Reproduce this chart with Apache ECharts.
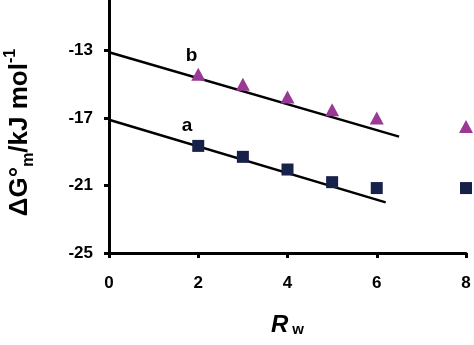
<!DOCTYPE html>
<html>
<head>
<meta charset="utf-8">
<script src="https://cdn.jsdelivr.net/npm/echarts@6/dist/echarts.min.js"></script>
<style>
  html, body { margin: 0; padding: 0; background: #fff; }
  #chart { width: 474px; height: 345px; }
</style>
</head>
<body>
<div id="chart"></div>
<script>
// Water-to-surfactant ratio values
var rw = [2, 3, 4, 5, 6, 8];
// Standard free energy of micellisation (kJ/mol)
var seriesA = [-18.65, -19.3, -20.05, -20.8, -21.15, -21.15];
var seriesB = [-14.4, -15.0, -15.75, -16.5, -17.0, -17.5];
// Linear fits, given as endpoints [Rw, ΔG]
var fitA = [[0, -17.1], [6.2, -22.0]];
var fitB = [[0, -13.1], [6.5, -18.1]];
// Curve captions and where they sit [Rw, ΔG]
var captions = [['a', 1.75, -17.45], ['b', 1.85, -13.3]];
// Axis ticks
var yTicks = [-25, -21, -17, -13];

var font = 'Liberation Sans, Arial, sans-serif';

function pairs(xs, ys) {
  return xs.map(function (x, i) { return [x, ys[i]]; });
}

var chart = echarts.init(document.getElementById('chart'), null, { renderer: 'canvas' });
chart.setOption({
  animation: false,
  backgroundColor: '#fff',
  grid: { left: 109, right: 8, top: 0, bottom: 92, containLabel: false, outerBoundsMode: 'none' },
  xAxis: {
    type: 'value', min: 0, max: 8, interval: 2,
    axisLine: { onZero: false, lineStyle: { color: '#000', width: 3 } },
    axisTick: { show: true, length: 5, lineStyle: { color: '#000', width: 3 } },
    axisLabel: { color: '#000', fontFamily: font, fontWeight: 'bold', fontSize: 17, margin: 22 },
    splitLine: { show: false },
    name: '{r|R}{w|w}',
    nameLocation: 'middle',
    nameGap: 58,
    nameTextStyle: {
      rich: {
        r: { fontFamily: font, fontWeight: 'bold', fontStyle: 'italic', fontSize: 24, color: '#000', verticalAlign: 'bottom', lineHeight: 26 },
        w: { fontFamily: font, fontWeight: 'bold', fontSize: 15, color: '#000', verticalAlign: 'bottom', lineHeight: 20, padding: [0, 0, 0, 4] }
      }
    }
  },
  yAxis: {
    type: 'value', min: -25, max: -10,
    axisLine: { onZero: false, lineStyle: { color: '#000', width: 3 } },
    axisTick: { show: true, length: 5, customValues: yTicks, lineStyle: { color: '#000', width: 3 } },
    axisLabel: { color: '#000', fontFamily: font, fontWeight: 'bold', fontSize: 17, margin: 16, customValues: yTicks },
    splitLine: { show: false },
    name: '{a|ΔG°}{s|m}{a|/kJ mol}{p|-1}',
    nameLocation: 'middle',
    nameRotate: 90,
    nameGap: 72,
    nameTextStyle: {
      padding: [0, 12, 0, 0],
      rich: {
        a: { fontFamily: font, fontWeight: 'bold', fontSize: 26, color: '#000', lineHeight: 34, verticalAlign: 'middle' },
        s: { fontFamily: font, fontWeight: 'bold', fontSize: 16, color: '#000', lineHeight: 34, verticalAlign: 'bottom' },
        p: { fontFamily: font, fontWeight: 'bold', fontSize: 16, color: '#000', lineHeight: 34, verticalAlign: 'top' }
      }
    }
  },
  series: [
    {
      type: 'line', data: fitA, symbol: 'none', silent: true,
      lineStyle: { color: '#000', width: 2.5 }, z: 2
    },
    {
      type: 'line', data: fitB, symbol: 'none', silent: true,
      lineStyle: { color: '#000', width: 2.5 }, z: 2
    },
    {
      type: 'scatter', data: pairs(rw, seriesA), symbol: 'rect', symbolSize: 12,
      itemStyle: { color: '#18214a', opacity: 1 }, z: 3
    },
    {
      type: 'scatter', data: pairs(rw, seriesB), symbol: 'triangle', symbolSize: [14, 13],
      itemStyle: { color: '#9a3895', opacity: 1 }, z: 3
    },
    {
      type: 'scatter', symbolSize: 1, itemStyle: { color: 'rgba(0,0,0,0)', opacity: 1 }, z: 4,
      data: captions.map(function (c) { return { name: c[0], value: [c[1], c[2]] }; }),
      label: {
        show: true, position: 'inside', formatter: '{b}',
        color: '#000', textBorderWidth: 0, fontFamily: font, fontWeight: 'bold', fontSize: 19
      }
    }
  ]
});
</script>
</body>
</html>
